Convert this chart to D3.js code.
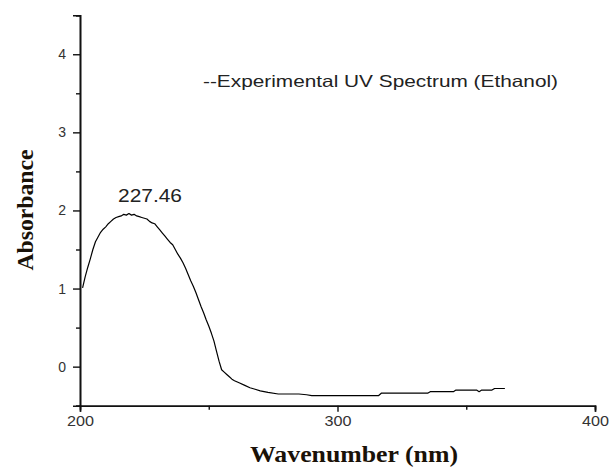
<!DOCTYPE html>
<html>
<head>
<meta charset="utf-8">
<script src="https://cdn.jsdelivr.net/npm/d3@7"></script>
<style>
  html, body { margin: 0; padding: 0; background: #fff; }
  svg { display: block; }
</style>
</head>
<body>
<svg id="chart" width="610" height="468"></svg>
<script>
// UV absorbance spectrum measured in ethanol
const wavelengths = [
  201, 202, 203, 204, 205, 206, 207, 208, 209, 210,
  211, 212, 213, 214, 215, 216, 217, 218, 219, 220,
  221, 222, 223, 224, 225, 226, 227, 228, 229, 230,
  231, 232, 233, 234, 235, 236, 237, 238, 239, 240,
  241, 242, 243, 244, 245, 246, 247, 248, 249, 250,
  251, 252, 253, 254, 255, 256, 257, 258, 259, 260,
  262, 264, 266, 268, 270, 273, 277, 281, 285, 288,
  290, 292, 300, 310, 316, 317, 325, 335, 336, 345,
  346, 354, 355, 356, 357, 360, 361, 365
];
const absorbance = [
  1.01, 1.15, 1.27, 1.38, 1.50, 1.60, 1.66, 1.72, 1.76, 1.79,
  1.83, 1.86, 1.89, 1.91, 1.92, 1.93, 1.95, 1.94, 1.96, 1.94,
  1.95, 1.93, 1.92, 1.91, 1.90, 1.89, 1.86, 1.84, 1.83, 1.79,
  1.75, 1.71, 1.67, 1.63, 1.59, 1.56, 1.50, 1.44, 1.39, 1.33,
  1.26, 1.18, 1.10, 1.03, 0.95, 0.86, 0.77, 0.69, 0.60, 0.52,
  0.43, 0.33, 0.20, 0.07, -0.04, -0.07, -0.10, -0.13, -0.16, -0.18,
  -0.21, -0.24, -0.27, -0.29, -0.31, -0.33, -0.35, -0.35, -0.35, -0.36,
  -0.37, -0.37, -0.37, -0.37, -0.37, -0.34, -0.34, -0.34, -0.32, -0.32,
  -0.30, -0.30, -0.32, -0.30, -0.30, -0.30, -0.28, -0.28
];

const xMajorTicks = [200, 300, 400];
const xMinorTicks = [250, 350];
const yMajorTicks = [0, 1, 2, 3, 4];
const yMinorTicks = [-0.5, 0.5, 1.5, 2.5, 3.5, 4.5];

const peakLabel = "227.46";
const legendText = "--Experimental UV  Spectrum (Ethanol)";
const xTitle = "Wavenumber (nm)";
const yTitle = "Absorbance";

const svg = d3.select("#chart");

const x = d3.scaleLinear().domain([200, 400]).range([80, 595]);
const y = d3.scaleLinear().domain([-0.5, 4.5]).range([405.7, 15.2]);

const tickFont = "Arial, 'Liberation Sans', sans-serif";
const titleFont = "'Times New Roman', 'Liberation Serif', serif";

// spectrum line
const line = d3.line()
  .x((d, i) => x(wavelengths[i]))
  .y(d => y(d));

svg.append("path")
  .datum(absorbance)
  .attr("fill", "none")
  .attr("stroke", "#000")
  .attr("stroke-width", 1.2)
  .attr("stroke-linejoin", "round")
  .attr("d", line);

// x axis
const xAxis = svg.append("g").attr("transform", `translate(0,${y(-0.5)})`);
xAxis.call(d3.axisBottom(x).tickValues(xMinorTicks).tickSize(4).tickFormat(""));
xAxis.call(g => g.append("g").call(d3.axisBottom(x).tickValues(xMajorTicks).tickSize(6).tickFormat(d3.format("d"))));
xAxis.selectAll(".domain").attr("stroke", "#111").attr("stroke-width", 1.6);
xAxis.selectAll(".tick line").attr("stroke", "#111").attr("stroke-width", 1.4);
xAxis.selectAll(".tick text")
  .attr("font-family", tickFont)
  .attr("font-size", 14)
  .attr("fill", "#333")
  .attr("y", 10)
  .attr("textLength", 27)
  .attr("lengthAdjust", "spacingAndGlyphs");

// y axis
const yAxis = svg.append("g").attr("transform", `translate(${x(200)},0)`);
yAxis.call(d3.axisLeft(y).tickValues(yMinorTicks).tickSize(4).tickFormat(""));
yAxis.call(g => g.append("g").call(d3.axisLeft(y).tickValues(yMajorTicks).tickSize(7).tickFormat(d3.format("d"))));
yAxis.selectAll(".domain").attr("stroke", "#111").attr("stroke-width", 1.6);
yAxis.selectAll(".tick line").attr("stroke", "#111").attr("stroke-width", 1.4);
yAxis.selectAll(".tick text")
  .attr("font-family", tickFont)
  .attr("font-size", 14)
  .attr("fill", "#333")
  .attr("x", -14);

// peak annotation
svg.append("text")
  .attr("x", 150)
  .attr("y", 201.5)
  .attr("text-anchor", "middle")
  .attr("font-family", tickFont)
  .attr("font-size", 18)
  .attr("fill", "#222")
  .attr("textLength", 64)
  .attr("lengthAdjust", "spacingAndGlyphs")
  .text(peakLabel);

// legend text
svg.append("text")
  .attr("x", 203)
  .attr("y", 86.5)
  .attr("font-family", tickFont)
  .attr("font-size", 16.5)
  .attr("fill", "#222")
  .attr("textLength", 355)
  .attr("lengthAdjust", "spacingAndGlyphs")
  .text(legendText);

// axis titles
svg.append("text")
  .attr("x", 354)
  .attr("y", 461.5)
  .attr("text-anchor", "middle")
  .attr("font-family", titleFont)
  .attr("font-weight", "bold")
  .attr("font-size", 24)
  .attr("fill", "#1a1208")
  .attr("textLength", 208)
  .attr("lengthAdjust", "spacingAndGlyphs")
  .text(xTitle);

svg.append("text")
  .attr("transform", "translate(33,210) rotate(-90)")
  .attr("text-anchor", "middle")
  .attr("font-family", titleFont)
  .attr("font-weight", "bold")
  .attr("font-size", 23)
  .attr("fill", "#1a1208")
  .attr("textLength", 121)
  .attr("lengthAdjust", "spacingAndGlyphs")
  .text(yTitle);
</script>
</body>
</html>
